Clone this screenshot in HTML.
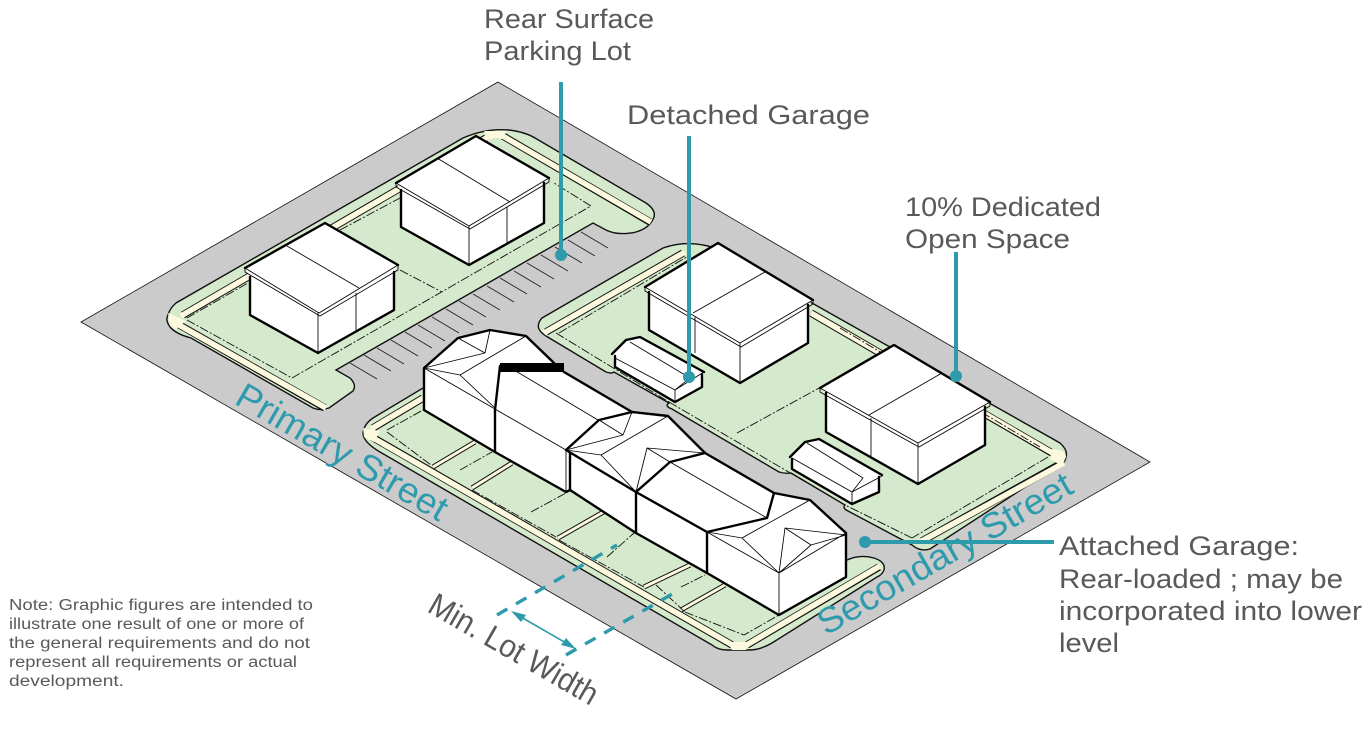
<!DOCTYPE html>
<html><head><meta charset="utf-8"><style>
html,body{margin:0;padding:0;background:#fff;width:1366px;height:738px;overflow:hidden}
svg{display:block}
text{font-family:"Liberation Sans",sans-serif;fill:#58595b}
.t{fill:#2e9bad}
.k{fill:none;stroke:#000;stroke-width:.85;stroke-linejoin:round}
.b{fill:none;stroke:#000;stroke-width:2.4;stroke-linejoin:round;stroke-linecap:round}
.w{fill:#fff;stroke:none}
.d{fill:none;stroke:#111;stroke-width:.9;stroke-dasharray:9 2 2 2}
.c{fill:none;stroke:#111;stroke-width:7.5;stroke-linecap:butt}
.c2{fill:none;stroke:#fdf9de;stroke-width:5.6;stroke-linecap:butt}
.x{fill:none;stroke:#111;stroke-width:5}
.x2{fill:none;stroke:#fdf9de;stroke-width:3}
.g{fill:#d5e9cc;stroke:#111;stroke-width:1.4}
</style></head><body>
<svg width="1366" height="738" viewBox="0 0 1366 738" xmlns="http://www.w3.org/2000/svg">
<polygon points="498,82 1150,462 736,699 81,322" fill="#cbcbcb" stroke="#111" stroke-width="0.8"/>

<!-- Block 1 -->
<path class="g" d="M463,138 Q486,128 509,130 Q525,132 535,138 L646,203 Q656,210 654,217 Q650,228 636,232 Q618,236 606,230 L593,223 L336,370 L350,378 Q357,385 353,391 L329,408 Q320,411 313,408 L191,338 Q176,334 170,327 Q165,320 168,315 Q170,308 176,303 Z"/>
<path class="c" d="M176,323 L325,408 M183,315 L486,138 M503,136 L650,222"/>
<path class="c2" d="M172,321 L326,408 M181,316 L488,137 M501,135 L651,222"/>
<path d="M168,313 L186,321 L176,329 L170,326 Z" fill="#fdf9de"/>
<path d="M484,131 H507 L502,139 Q495,136 490,140 Z" fill="#fdf9de"/>
<path class="d" d="M187,320 L292,378 L591,206 L554,183 M187,318 L248,283 M340,230 L400,198 M400,270 L442,292"/>
<path stroke="#222" stroke-width=".9" fill="none" d="M350,363l27,16M364,355l27,16M377,348l27,16M391,340l27,16M405,332l27,16M418,325l27,16M432,317l27,16M446,309l27,16M459,301l27,16M473,294l27,16M487,286l27,16M500,278l27,16M514,271l27,16M527,263l27,16M541,255l27,16M555,247l27,16M568,240l27,16M581,232l27,16"/>

<!-- B1 -->
<polygon class="w" points="325,223 398,265 394,272 394,310 318,353 250,315 250,277 245,268"/>
<path class="b" d="M245,268 L325,223 L398,265 M250,277 V315 L318,353 L394,310 V272"/>
<path class="k" d="M245,268 L319,313 L398,265 L398,270 L320,316 L245,272 Z M287,246 L359,288 M356,293 V330 M318,313 V353"/>
<!-- B2 -->
<polygon class="w" points="476,136 549,178 544,183 544,223 469,265 401,227 401,190 396,183"/>
<path class="b" d="M396,183 L476,136 L549,178 M401,190 V227 L469,265 L544,223 V183"/>
<path class="k" d="M396,183 L469,226 L549,178 L549,182 L470,229 L396,187 Z M437,158 L510,202 M507,207 V243 M469,226 V265"/>

<!-- Block 2 -->
<path class="g" d="M542,318 L663,248 Q683,241 703,245 Q710,246 718,250 L1060,443 Q1068,450 1066,457 Q1065,464 1056,467 L930,549 Q920,552 912,545 L848,511 Q842,508 845,505 L791,473 Q786,474 779,472 L672,409 Q664,406 669,403 L614,372 Q612,374 606,372 L546,336 Q533,328 542,318 Z"/>
<path class="c" d="M546,332 L683,253 M811,313 L1052,453 M1062,463 L922,541"/>
<path class="c2" d="M544,333 L685,252 M811,313 L1056,455 M1064,463 L920,542"/>
<path d="M1052,449 Q1066,450 1066,457 L1062,466 L1050,459 Z" fill="#fdf9de"/>
<path class="d" d="M556,333 L669,402 M669,402 L845,505 L912,538 M737,433 L821,387 M1048,457 L912,538 M559,333 L690,255 M840,328 L1040,447"/>
<!-- B3 -->
<polygon class="w" points="718,243 813,300 808,305 808,343 740,383 649,330 649,292 645,287"/>
<path class="b" d="M645,287 L718,243 L813,300 M649,292 V330 L740,383 L808,343 V305"/>
<path class="k" d="M645,287 L740,343 L813,300 L813,304 L741,347 L645,291 Z M765,272 L693,313 M695,317 V353 M740,343 V383"/>
<!-- B4 -->
<polygon class="w" points="894,345 990,402 985,407 985,445 918,484 826,432 826,393 820,388"/>
<path class="b" d="M820,388 L894,345 L990,402 M826,393 V432 L918,484 L985,445 V407"/>
<path class="k" d="M820,388 L918,443 L990,402 L990,406 L919,447 L820,392 Z M942,373 L869,415 M871,418 V457 M918,443 V484"/>
<!-- G1 -->
<polygon class="w" points="612,354 626,340 640,337 704,372 702,387 675,402 615,367"/>
<path class="b" d="M612,354 L626,340 L640,337 L704,372 M702,374 V387 L675,402 L615,367 V356"/>
<path class="k" d="M615,358 L675,390 L704,372 M630,342 L690,378 L675,390 M675,390 V402"/>
<!-- G2 -->
<polygon class="w" points="790,457 805,442 819,439 882,475 879,492 852,504 792,469"/>
<path class="b" d="M790,457 L805,442 L819,439 L882,475 M879,477 V492 L852,504 L792,469 V459"/>
<path class="k" d="M792,458 L852,492 L882,476 M807,443 L863,478 L852,492 M852,492 V504"/>

<!-- Block 3 -->
<path class="g" d="M363,433 Q364,424 373,418 L423,388 L847,560 Q860,554 874,558 Q886,562 884,570 Q882,575 877,577 L772,643 Q760,650 749,650 L727,650 Q718,650 712,645 L380,452 Q363,442 363,433 Z"/>
<path class="c" d="M373,428 L423,398 M372,437 L732,645 M747,645 L879,567"/>
<path class="c2" d="M371,429 L423,398 M368,435 L734,646 M745,646 L880,566"/>
<path d="M363,428 L380,431 L374,442 L364,437 Z" fill="#fdf9de"/>
<path d="M729,642 H750 L746,650 H732 Z" fill="#fdf9de"/>
<path class="x" d="M433,467 L475,442 M472,488 L512,463 M558,538 L607,510 M644,587 L690,565 M681,610 L725,585"/>
<path class="x2" d="M433,467 L475,442 M472,488 L512,463 M558,538 L607,510 M644,587 L690,565 M681,610 L725,585"/>
<path class="d" d="M387,432 L431,465 M387,430 L423,410 M460,470 L492,452 M472,490 L556,537 M531,512 L566,493 M559,540 L644,587 M607,557 L634,533 M656,585 L685,612 M681,587 L705,575 M685,612 L744,635 L779,615"/>

<!-- Row building -->
<polygon class="w" points="424,368 458,338 490,330 526,336 554,363 564,372 632,412 668,416 705,453 774,493 810,500 846,533 846,577 779,615 707,573 636,533 570,490 566,492 495,452 424,410"/>
<path class="b" d="M424,410 V368 L458,338 L490,330 L526,336 L554,363 M564,372 L632,412 L668,416 L705,453 L774,493 L810,500 L846,533 V577 L779,615 L707,573 L636,533 L570,490 L566,492 L495,452 L424,410"/>
<path class="b" d="M500,366 L495,410 V452 M566,450 L599,420 L632,412 M566,450 L636,492 M570,453 V490 M636,492 L670,462 L705,453 M636,492 V533 M636,492 L707,532 V573 M707,532 L767,518 L774,493"/>
<path class="k" d="M424,368 L566,450 V492 M424,368 L485,353 M424,368 L460,375 M458,338 L485,353 M490,330 L485,353 M526,336 L460,375 M460,375 L495,408 M514,370 L598,420"/>
<path class="k" d="M566,450 L623,435 M599,420 L623,435 M632,412 L623,435 M566,450 L601,455 M668,416 L601,455 M601,455 L636,492 M636,492 L647,448 L705,453 M647,448 L670,462 M670,462 L767,518"/>
<path class="k" d="M707,532 L742,538 M707,532 L779,573 M779,573 L846,533 M779,573 V615 M810,500 L742,538 M742,538 L779,573 M779,573 L785,528 L846,535 M785,528 L811,545 M846,535 L811,545 M811,545 L779,573"/>
<rect x="500" y="363" width="64" height="9" fill="#000"/>

<!-- Leaders -->
<g stroke="#2e9bad" stroke-width="4" fill="#2e9bad">
<line x1="561" y1="82" x2="561" y2="255"/><circle cx="561" cy="255" r="6" stroke="none"/>
<line x1="689" y1="136" x2="689" y2="377"/><circle cx="689" cy="377" r="6" stroke="none"/>
<line x1="956" y1="252" x2="956" y2="376"/><circle cx="956" cy="376" r="6" stroke="none"/>
<line x1="865" y1="542" x2="1054" y2="542"/><circle cx="865" cy="542" r="6" stroke="none"/>
</g>
<g stroke="#2e9bad" stroke-width="3.4" fill="none" stroke-dasharray="12 10">
<line x1="497" y1="615" x2="617" y2="545"/>
<line x1="566" y1="655" x2="674" y2="593"/>
</g>
<line x1="514" y1="613" x2="573" y2="647" stroke="#2e9bad" stroke-width="1.6"/>
<polygon points="511,611 526,615 521,622" fill="#2e9bad"/>
<polygon points="576,649 561,645 566,638" fill="#2e9bad"/>

<!-- Labels -->
<g font-size="27">
<text x="484" y="28" textLength="170" lengthAdjust="spacingAndGlyphs">Rear Surface</text>
<text x="484" y="60" textLength="147" lengthAdjust="spacingAndGlyphs">Parking Lot</text>
<text x="627" y="124" textLength="243" lengthAdjust="spacingAndGlyphs">Detached Garage</text>
<text x="905" y="216" textLength="196" lengthAdjust="spacingAndGlyphs">10% Dedicated</text>
<text x="905" y="248" textLength="165" lengthAdjust="spacingAndGlyphs">Open Space</text>
<text x="1059" y="555" textLength="240" lengthAdjust="spacingAndGlyphs">Attached Garage:</text>
<text x="1059" y="588" textLength="284" lengthAdjust="spacingAndGlyphs">Rear-loaded ; may be</text>
<text x="1059" y="620" textLength="303" lengthAdjust="spacingAndGlyphs">incorporated into lower</text>
<text x="1059" y="652" textLength="60" lengthAdjust="spacingAndGlyphs">level</text>
</g>
<g font-size="15.5">
<text x="9" y="610" textLength="304" lengthAdjust="spacingAndGlyphs">Note: Graphic figures are intended to</text>
<text x="9" y="629" textLength="295" lengthAdjust="spacingAndGlyphs">illustrate one result of one or more of</text>
<text x="9" y="648" textLength="301" lengthAdjust="spacingAndGlyphs">the general requirements and do not</text>
<text x="9" y="667" textLength="288" lengthAdjust="spacingAndGlyphs">represent all requirements or actual</text>
<text x="9" y="686" textLength="115" lengthAdjust="spacingAndGlyphs">development.</text>
</g>
<text class="t" font-size="36" transform="translate(233,403) rotate(30)" textLength="238" lengthAdjust="spacingAndGlyphs">Primary Street</text>
<text class="t" font-size="36" transform="translate(826,636) rotate(-30)" textLength="288" lengthAdjust="spacingAndGlyphs">Secondary Street</text>
<text font-size="32" transform="translate(426,611) rotate(30)" textLength="190" lengthAdjust="spacingAndGlyphs">Min. Lot Width</text>
</svg>
</body></html>
